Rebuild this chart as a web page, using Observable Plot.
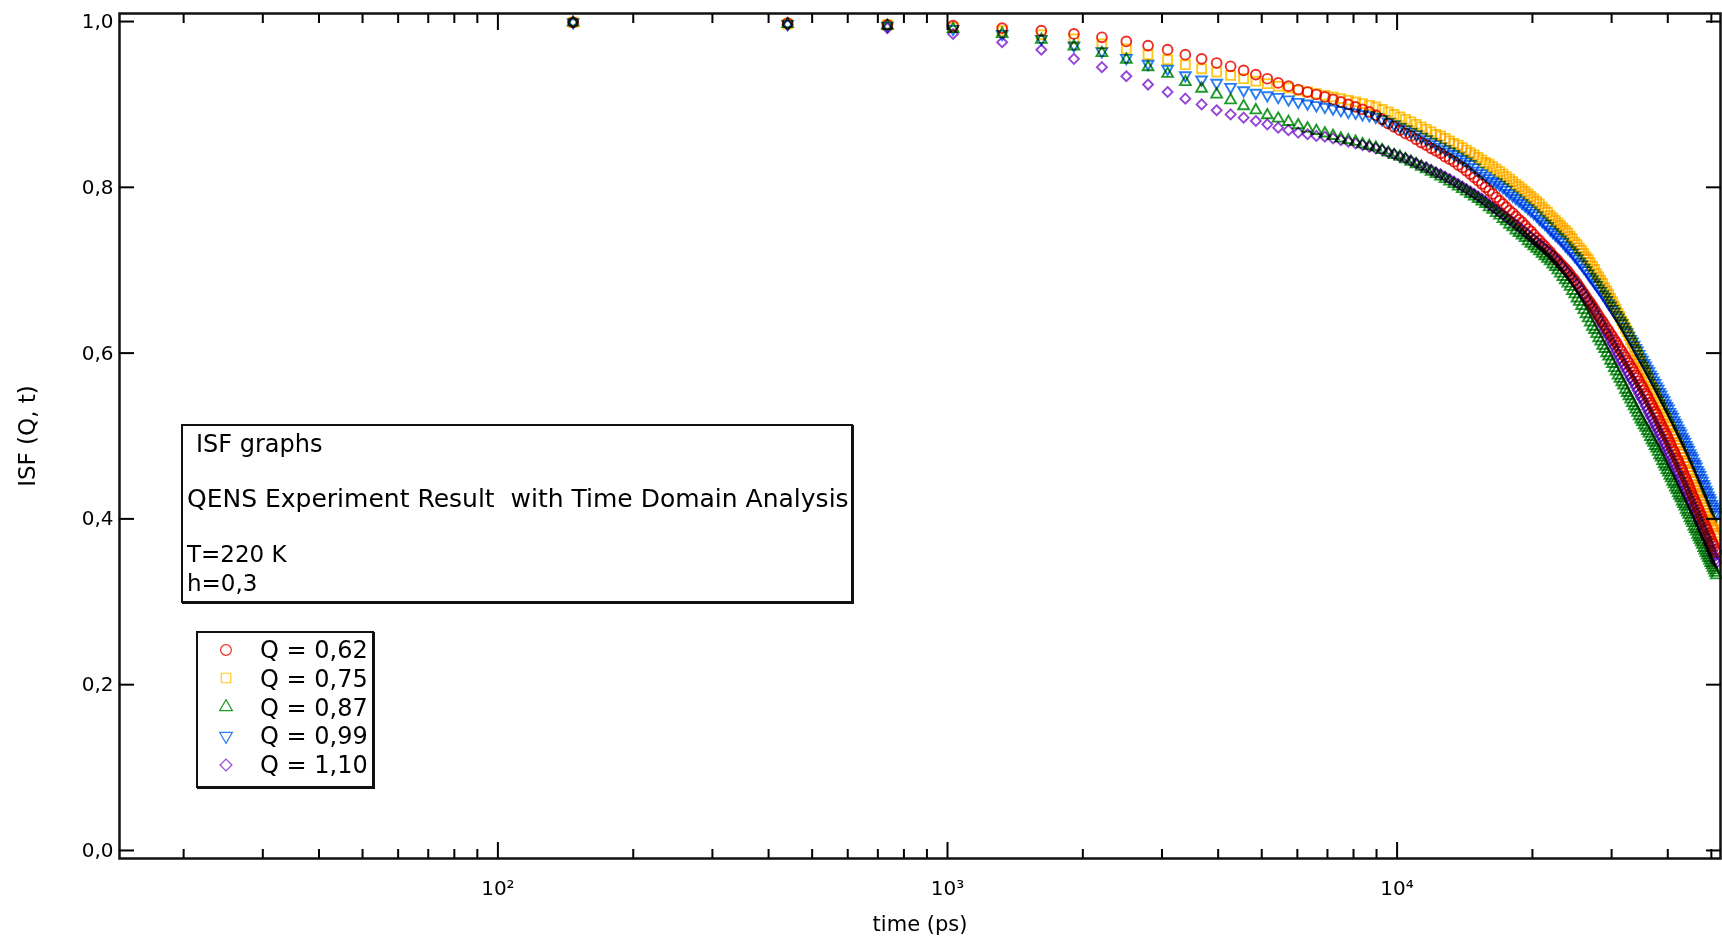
<!DOCTYPE html>
<html><head><meta charset="utf-8">
<script src="https://cdn.jsdelivr.net/npm/d3@7"></script>
<script src="https://cdn.jsdelivr.net/npm/@observablehq/plot@0.6"></script>
<style>
html,body{margin:0;padding:0;background:#fff;}
#wrap{position:relative;width:1722px;height:940px;font-family:"DejaVu Sans",sans-serif;color:#000;}
#note{position:absolute;left:181px;top:424px;width:668px;height:175px;border:2px solid #111;box-shadow:1px 1px 0 #111;background:#fff;}
#legend{position:absolute;left:196px;top:631px;width:174px;height:153px;border:2px solid #111;box-shadow:1px 1px 0 #111;background:#fff;}
.ln{position:absolute;white-space:pre;line-height:1;}
.sw{position:absolute;width:24px;height:24px;overflow:visible;}
</style>
</head><body>
<div id="wrap">
  <div id="chart"></div>
  <div id="note">
    <div class="ln" style="left:13px;top:6px;font-size:24px;">ISF graphs</div>
    <div class="ln" style="left:4px;top:60px;font-size:25px;">QENS Experiment Result  with Time Domain Analysis</div>
    <div class="ln" style="left:4px;top:117px;font-size:23px;">T=220 K</div>
    <div class="ln" style="left:4px;top:146px;font-size:23px;">h=0,3</div>
  </div>
  <div id="legend"></div>
</div>
<script>
// ---- data ----
const timePs = [147,441,735,1029,1323,1617,1911,2205,2499,2793,
3087,3381,3675,3969,4263,4557,4851,5145,5439,5733,
6027,6321,6615,6909,7203,7497,7791,8085,8379,8673,
8967,9261,9555,9849,10143,10437,10731,11025,11319,11613,
11907,12201,12495,12789,13083,13377,13671,13965,14259,14553,
14847,15141,15435,15729,16023,16317,16611,16905,17199,17493,
17787,18081,18375,18669,18963,19257,19551,19845,20139,20433,
20727,21021,21315,21609,21903,22197,22491,22785,23079,23373,
23667,23961,24255,24549,24843,25137,25431,25725,26019,26313,
26607,26901,27195,27489,27783,28077,28371,28665,28959,29253,
29547,29841,30135,30429,30723,31017,31311,31605,31899,32193,
32487,32781,33075,33369,33663,33957,34251,34545,34839,35133,
35427,35721,36015,36309,36603,36897,37191,37485,37779,38073,
38367,38661,38955,39249,39543,39837,40131,40425,40719,41013,
41307,41601,41895,42189,42483,42777,43071,43365,43659,43953,
44247,44541,44835,45129,45423,45717,46011,46305,46599,46893,
47187,47481,47775,48069,48363,48657,48951,49245,49539,49833,
50127,50421,50715,51009,51303];

const isfQ062 = [.999,.998,.996,.995,.992,.989,.985,.981,.976,.971,
.966,.960,.955,.950,.946,.941,.936,.931,.926,.922,
.918,.915,.912,.909,.906,.903,.900,.897,.894,.891,
.887,.882,.877,.873,.869,.865,.862,.858,.854,.851,
.847,.844,.841,.837,.834,.831,.827,.824,.820,.816,
.812,.808,.804,.800,.796,.792,.788,.784,.780,.776,
.772,.769,.765,.761,.758,.754,.750,.747,.743,.739,
.736,.732,.729,.725,.722,.718,.715,.712,.708,.705,
.702,.699,.695,.691,.688,.684,.680,.676,.672,.668,
.664,.661,.657,.653,.649,.645,.641,.638,.634,.630,
.627,.623,.620,.616,.613,.609,.605,.602,.598,.595,
.591,.588,.584,.581,.577,.573,.570,.566,.562,.559,
.555,.551,.548,.544,.540,.537,.533,.529,.526,.522,
.518,.514,.510,.507,.503,.500,.496,.492,.488,.484,
.481,.477,.473,.470,.466,.462,.459,.455,.451,.448,
.444,.440,.436,.432,.428,.425,.421,.418,.414,.411,
.407,.404,.400,.397,.393,.390,.387,.383,.380,.377,
.373,.370,.367,.363,.360];

const isfQ075 = [.999,.997,.996,.993,.989,.984,.979,.973,.967,.960,
.954,.948,.943,.939,.935,.931,.928,.925,.922,.920,
.917,.915,.913,.911,.909,.907,.905,.903,.901,.899,
.897,.894,.891,.888,.885,.882,.879,.876,.873,.870,
.867,.864,.862,.859,.856,.853,.851,.848,.845,.842,
.839,.836,.833,.830,.828,.825,.822,.819,.816,.813,
.810,.807,.804,.801,.798,.795,.792,.789,.786,.783,
.780,.776,.773,.770,.766,.763,.760,.757,.754,.751,
.748,.745,.741,.738,.734,.731,.727,.724,.720,.716,
.713,.709,.705,.701,.696,.692,.688,.684,.679,.675,
.671,.666,.662,.657,.653,.648,.644,.639,.635,.630,
.626,.621,.616,.612,.607,.602,.598,.593,.589,.584,
.580,.576,.571,.567,.563,.559,.555,.551,.546,.542,
.538,.534,.530,.526,.522,.518,.514,.511,.507,.503,
.500,.496,.492,.489,.485,.481,.478,.474,.470,.467,
.463,.459,.456,.452,.448,.445,.441,.438,.434,.431,
.428,.424,.421,.417,.414,.410,.407,.403,.400,.397,
.393,.390,.387,.383,.380];

const isfQ087 = [.999,.997,.995,.991,.985,.978,.970,.962,.954,.945,
.937,.927,.919,.912,.905,.898,.893,.887,.883,.879,
.875,.871,.868,.865,.862,.859,.857,.855,.852,.850,
.848,.845,.842,.839,.837,.834,.831,.828,.825,.822,
.819,.816,.813,.810,.807,.804,.801,.798,.795,.792,
.789,.786,.783,.780,.776,.773,.769,.766,.762,.759,
.755,.752,.748,.745,.742,.739,.735,.732,.729,.726,
.723,.720,.717,.714,.711,.707,.704,.700,.696,.692,
.688,.684,.680,.675,.671,.666,.662,.657,.652,.647,
.642,.637,.632,.628,.623,.618,.614,.609,.605,.600,
.596,.591,.587,.582,.578,.573,.569,.565,.561,.556,
.552,.548,.544,.540,.536,.532,.528,.524,.520,.517,
.513,.510,.506,.503,.499,.495,.492,.488,.485,.481,
.477,.474,.470,.466,.463,.459,.456,.452,.449,.445,
.442,.438,.435,.431,.428,.425,.421,.418,.415,.411,
.408,.405,.401,.398,.395,.391,.388,.385,.381,.378,
.375,.372,.369,.365,.362,.359,.356,.353,.350,.347,
.344,.341,.338,.335,.332];

const isfQ099 = [.999,.997,.995,.991,.985,.979,.971,.964,.956,.949,
.943,.935,.930,.926,.921,.917,.914,.911,.909,.906,
.903,.901,.899,.897,.895,.893,.891,.890,.888,.887,
.885,.882,.879,.876,.873,.870,.867,.864,.861,.858,
.855,.852,.849,.846,.843,.840,.837,.834,.831,.828,
.824,.820,.817,.814,.811,.808,.806,.803,.800,.797,
.793,.790,.787,.784,.781,.778,.775,.772,.769,.766,
.762,.759,.756,.753,.749,.746,.743,.740,.737,.734,
.730,.727,.724,.721,.717,.714,.710,.707,.703,.700,
.696,.692,.689,.685,.682,.678,.675,.671,.668,.664,
.660,.657,.653,.650,.646,.643,.639,.636,.632,.628,
.625,.621,.617,.614,.610,.606,.603,.599,.595,.592,
.588,.585,.581,.578,.574,.571,.567,.564,.560,.557,
.553,.550,.546,.543,.539,.536,.533,.529,.526,.523,
.519,.516,.513,.509,.506,.503,.499,.496,.493,.489,
.486,.483,.479,.476,.473,.469,.466,.463,.459,.456,
.453,.449,.446,.442,.439,.435,.432,.428,.425,.422,
.418,.415,.412,.408,.405];

const isfQ110 = [.999,.996,.992,.985,.975,.966,.955,.945,.934,.924,
.915,.907,.900,.893,.888,.884,.880,.876,.872,.869,
.866,.864,.862,.861,.859,.857,.855,.853,.851,.849,
.847,.845,.842,.840,.837,.835,.832,.829,.826,.824,
.821,.818,.816,.813,.810,.807,.804,.801,.798,.795,
.792,.789,.786,.783,.779,.776,.773,.770,.767,.764,
.761,.758,.755,.752,.749,.746,.743,.740,.737,.734,
.731,.729,.726,.723,.721,.718,.714,.711,.707,.704,
.700,.697,.693,.690,.686,.683,.679,.675,.671,.667,
.663,.659,.655,.651,.646,.642,.637,.633,.628,.624,
.620,.615,.611,.607,.602,.598,.594,.590,.586,.582,
.578,.574,.570,.567,.563,.559,.555,.551,.547,.544,
.540,.536,.532,.528,.524,.521,.517,.513,.510,.506,
.502,.499,.495,.491,.488,.484,.480,.477,.473,.469,
.466,.462,.458,.455,.451,.448,.444,.441,.437,.434,
.430,.427,.423,.420,.416,.413,.409,.406,.402,.399,
.395,.392,.388,.385,.381,.378,.375,.371,.368,.364,
.361,.357,.354,.350,.347];

const seriesLabels = ["Q = 0,62", "Q = 0,75", "Q = 0,87", "Q = 0,99", "Q = 1,10"];
const xMajorTicks = [100, 1000, 10000];
const xMinorTicks = [20,30,40,50,60,70,80,90,200,300,400,500,600,700,800,900,
  2000,3000,4000,5000,6000,7000,8000,9000,20000,30000,40000,50000];
const yTicks = [0, 0.2, 0.4, 0.6, 0.8, 1.0];

// ---- styling ----
const symbolTriangleDown = {
  draw(context, size) {
    const y = -Math.sqrt(size / (Math.sqrt(3) * 3));
    context.moveTo(0, -y * 2);
    context.lineTo(-Math.sqrt(3) * y, y);
    context.lineTo(Math.sqrt(3) * y, y);
    context.closePath();
  }
};
const seriesValues = [isfQ062, isfQ075, isfQ087, isfQ099, isfQ110];
const colors = ["#ee2e26", "#ffc81e", "#1f9a2a", "#2a7ff0", "#9646d6"];
const symbols = [d3.symbolCircle, d3.symbolSquare, d3.symbolTriangle, symbolTriangleDown, d3.symbolDiamond2];
const radii = [4.9, 5.0, 4.0, 4.0, 4.5];
const drawOrder = [1, 0, 4, 2, 3];

const sup = {"2": "\u00b2", "3": "\u00b3", "4": "\u2074"};
const fmtX = d => "10" + sup[String(Math.round(Math.log10(d)))];
const fmtY = d => d.toFixed(1).replace(".", ",");

const dotMarks = drawOrder.map(k => {
  const rows = timePs.map((t, i) => ({t, v: seriesValues[k][i]}));
  return Plot.dot(rows, {
    x: "t", y: "v", r: radii[k], symbol: symbols[k],
    stroke: colors[k], fill: "none", strokeWidth: 1.9, mixBlendMode: "multiply"
  });
});

const chart = Plot.plot({
  width: 1722, height: 940,
  marginLeft: 119, marginRight: 2, marginTop: 13, marginBottom: 82,
  x: {type: "log", domain: [14.4, 52400]},
  y: {domain: [-0.0097, 1.0097]},
  style: {fontFamily: "DejaVu Sans", background: "#fff", color: "#000"},
  marks: [
    ...dotMarks,
    Plot.frame({stroke: "#111", strokeWidth: 2.5}),
    Plot.axisX(xMajorTicks, {anchor: "bottom", tickSize: -16, tickPadding: 38, tickFormat: fmtX, fontSize: 20, strokeWidth: 2, label: null}),
    Plot.axisX(xMinorTicks, {anchor: "bottom", tickSize: -9, tickFormat: () => "", strokeWidth: 2, label: null}),
    Plot.axisX(xMajorTicks, {anchor: "top", tickSize: -16, tickFormat: () => "", strokeWidth: 2, label: null}),
    Plot.axisX(xMinorTicks, {anchor: "top", tickSize: -9, tickFormat: () => "", strokeWidth: 2, label: null}),
    Plot.axisY(yTicks, {anchor: "left", tickSize: -15, tickPadding: 21, tickFormat: fmtY, fontSize: 20, strokeWidth: 2, label: null}),
    Plot.axisY(yTicks, {anchor: "right", tickSize: -15, tickFormat: () => "", strokeWidth: 2, label: null}),
    Plot.text(["time (ps)"], {text: d => d, frameAnchor: "bottom", dy: 66, fontSize: 21, lineAnchor: "middle", textAnchor: "middle"}),
    Plot.text(["ISF (Q, t)"], {text: d => d, frameAnchor: "left", dx: -92, rotate: -90, fontSize: 23, lineAnchor: "middle", textAnchor: "middle"})
  ]
});
document.getElementById("chart").appendChild(chart);

// ---- legend ----
const legend = d3.select("#legend");
const rowTops = [5, 33.5, 62.5, 91, 120];
const symTops = [17, 45, 74, 103, 132];
seriesLabels.forEach((label, k) => {
  const svg = legend.append("svg").attr("class", "sw")
    .style("left", (28 - 12) + "px").style("top", (symTops[k] - 12) + "px")
    .attr("width", 24).attr("height", 24);
  svg.append("path")
    .attr("transform", "translate(12,12)")
    .attr("d", d3.symbol(symbols[k], k === 2 || k === 3 ? 70 : 90)())
    .attr("fill", "none").attr("stroke", colors[k]).attr("stroke-width", 1.2);
  legend.append("div").attr("class", "ln")
    .style("left", "62px").style("top", rowTops[k] + "px").style("font-size", "24px")
    .text(label);
});
</script>
</body></html>
